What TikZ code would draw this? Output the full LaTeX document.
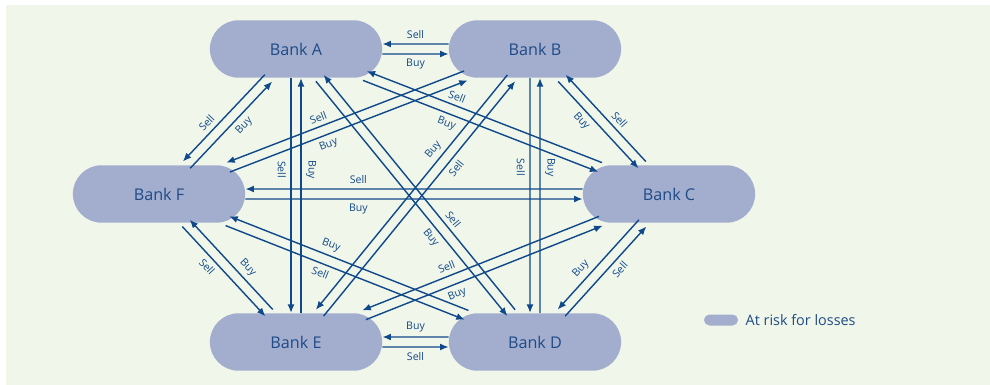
\documentclass[tikz,border=0pt]{standalone}
\usepackage{fontspec}
\setmainfont{Open Sans}
\usetikzlibrary{shapes.misc, arrows.meta, positioning, calc}

\definecolor{paper}{RGB}{240,246,233}
\definecolor{bankfill}{RGB}{163,174,207}
\definecolor{banktext}{RGB}{30,75,135}
\definecolor{linkblue}{RGB}{16,72,140}

\begin{document}
\begin{tikzpicture}[
        x=0.02cm, y=-0.02cm,
        >={Latex[length=1.7mm, width=1.4mm]},
        bank/.style={rounded rectangle, fill=bankfill, minimum width=3.68cm, minimum height=1.15cm, font=\fontsize{9.2}{11}\selectfont, text=banktext},
        arr/.style={draw=linkblue, line width=0.8pt},
        lbl/.style={sloped, inner sep=1.5pt, font=\fontsize{6}{7}\selectfont, text=linkblue},
        hi/.style 2 args={transform canvas={shift={($(#1)!0.1cm!90:(#2)-(#1)$)}}},
        lo/.style 2 args={transform canvas={shift={($(#1)!0.1cm!-90:(#2)-(#1)$)}}}
    ]
        \useasboundingbox (0,0) rectangle (990,385);
        \fill[paper] (6,5) rectangle (990,385);

        \node[bank] (A) at (296,49)  {Bank A};
        \node[bank] (B) at (535,49)  {Bank B};
        \node[bank] (F) at (159,194) {Bank F};
        \node[bank] (C) at (669,194) {Bank C};
        \node[bank] (E) at (296,342) {Bank E};
        \node[bank] (D) at (535,342) {Bank D};

        % upper line points back, lower line points forward
        \draw[arr, <-, hi={A}{B}] (A) -- node[lbl, above=1pt] {Sell} (B);
        \draw[arr, ->, lo={A}{B}] (A) -- node[lbl, below=1pt] {Buy} (B);
        \draw[arr, <-, hi={F}{A}] (F) -- node[lbl, pos=0.37, above=1pt] {Sell} (A);
        \draw[arr, ->, lo={F}{A}] (F) -- node[lbl, pos=0.57, below=1pt] {Buy} (A);
        \draw[arr, <-, hi={A}{E}] (A) -- node[lbl, allow upside down, pos=0.39, above=1pt] {Buy} (E);
        \draw[arr, ->, lo={A}{E}] (A) -- node[lbl, allow upside down, pos=0.39, below=1pt] {Sell} (E);
        \draw[arr, <-, hi={A}{C}] (A) -- node[lbl, pos=0.37, above=1pt] {Sell} (C);
        \draw[arr, ->, lo={A}{C}] (A) -- node[lbl, pos=0.37, below=1pt] {Buy} (C);
        \draw[arr, <-, hi={A}{D}] (A) -- node[lbl, pos=0.64, above=1pt] {Sell} (D);
        \draw[arr, ->, lo={A}{D}] (A) -- node[lbl, pos=0.64, below=1pt] {Buy} (D);
        \draw[arr, <-, hi={B}{C}] (B) -- node[lbl, pos=0.59, above=1pt] {Sell} (C);
        \draw[arr, ->, lo={B}{C}] (B) -- node[lbl, pos=0.38, below=1pt] {Buy} (C);
        \draw[arr, <-, hi={B}{D}] (B) -- node[lbl, allow upside down, pos=0.38, above=1pt] {Buy} (D);
        \draw[arr, ->, lo={B}{D}] (B) -- node[lbl, allow upside down, pos=0.38, below=1pt] {Sell} (D);
        \draw[arr, <-, hi={F}{B}] (F) -- node[lbl, pos=0.4, above=1pt] {Sell} (B);
        \draw[arr, ->, lo={F}{B}] (F) -- node[lbl, pos=0.4, below=1pt] {Buy} (B);
        \draw[arr, <-, hi={E}{B}] (E) -- node[lbl, pos=0.655, above=1pt] {Buy} (B);
        \draw[arr, ->, lo={E}{B}] (E) -- node[lbl, pos=0.655, below=1pt] {Sell} (B);
        \draw[arr, <-, hi={F}{C}] (F) -- node[lbl, pos=0.335, above=1pt] {Sell} (C);
        \draw[arr, ->, lo={F}{C}] (F) -- node[lbl, pos=0.335, below=1pt] {Buy} (C);
        \draw[arr, <-, hi={F}{E}] (F) -- node[lbl, pos=0.61, above=1pt] {Buy} (E);
        \draw[arr, ->, lo={F}{E}] (F) -- node[lbl, pos=0.38, below=1pt] {Sell} (E);
        \draw[arr, <-, hi={F}{D}] (F) -- node[lbl, pos=0.41, above=1pt] {Buy} (D);
        \draw[arr, ->, lo={F}{D}] (F) -- node[lbl, pos=0.41, below=1pt] {Sell} (D);
        \draw[arr, <-, hi={D}{C}] (D) -- node[lbl, pos=0.38, above=1pt] {Buy} (C);
        \draw[arr, ->, lo={D}{C}] (D) -- node[lbl, pos=0.59, below=1pt] {Sell} (C);
        \draw[arr, <-, hi={E}{C}] (E) -- node[lbl, pos=0.37, above=1pt] {Sell} (C);
        \draw[arr, ->, lo={E}{C}] (E) -- node[lbl, pos=0.37, below=1pt] {Buy} (C);
        \draw[arr, <-, hi={E}{D}] (E) -- node[lbl, above=1pt] {Buy} (D);
        \draw[arr, ->, lo={E}{D}] (E) -- node[lbl, below=1pt] {Sell} (D);

        % legend
        \node[bank, minimum width=0.68cm, minimum height=0.22cm, inner sep=0pt] (key) at (721,320) {};
        \node[right=0.14cm of key, inner sep=0pt, font=\fontsize{8.2}{10}\selectfont, text=banktext] (keytext) {At risk for losses};
    \end{tikzpicture}
\end{document}
